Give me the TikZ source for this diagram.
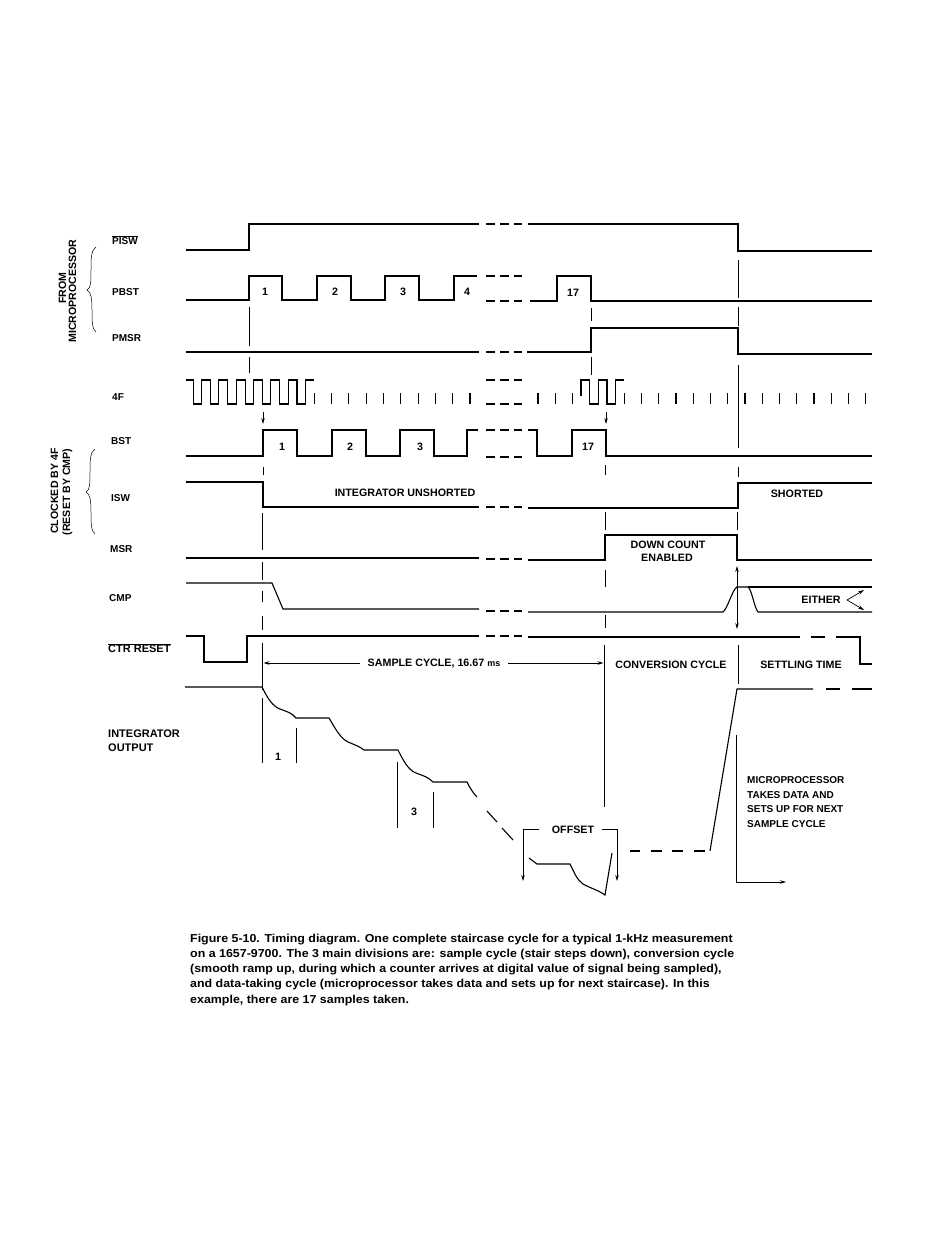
\documentclass[tikz,border=0pt]{standalone}
\usepackage{fontspec}
\setmainfont{Liberation Sans}
\newfontfamily\capfont[FakeStretch=1.08]{Liberation Sans}
\usetikzlibrary{arrows.meta}
\newcommand\gapdash[1]{\draw[sig] (486,#1)--(495,#1) (500,#1)--(509,#1) (514,#1)--(522,#1);}
\begin{document}
\begin{tikzpicture}[x=1pt,y=-1pt,
  sig/.style={line width=1.1pt},
  vm/.style={line width=0.7pt},
  lbl/.style={font=\bfseries\fontsize{10}{12}\selectfont, inner sep=0pt, anchor=west},
  lblb/.style={font=\bfseries\fontsize{11}{13}\selectfont, inner sep=0pt, anchor=west},
  il/.style={font=\bfseries\fontsize{10.7}{12}\selectfont, inner sep=0pt},
  rl/.style={font=\bfseries\fontsize{10.6}{12}\selectfont, inner sep=0pt, rotate=90, anchor=base},
  captxt/.style={font=\capfont\bfseries\fontsize{11.5}{13}\selectfont, inner sep=0pt, anchor=base west},
  tipd/.style={-{Stealth[length=6pt,width=3.5pt]}},
  tipb/.style={{Stealth[length=6pt,width=3.5pt]}-{Stealth[length=6pt,width=3.5pt]}}
]
\fill[white] (0,0) rectangle (950,1254);
\useasboundingbox (0,0) rectangle (950,1254);

% ---------- left labels ----------
\node[rl] (from) at (66,288) {FROM};
\node[rl] (micro) at (76,291) {MICROPROCESSOR};
\node[rl] (clk) at (58,491) {CLOCKED BY 4F};
\node[rl] (rst) at (70,492) {(RESET BY CMP)};
\draw[line width=0.5pt] (96,247) .. controls (91,250) and (91,259) .. (91,270) .. controls (91,282) and (91,288) .. (87,290) .. controls (91,292) and (92,298) .. (92,310) .. controls (92,321) and (92,329) .. (96,332);
\draw[line width=0.5pt] (95,449) .. controls (90,452) and (90,461) .. (90,472) .. controls (90,484) and (90,490) .. (86,492) .. controls (90,494) and (91,500) .. (91,512) .. controls (91,523) and (91,531) .. (95,534);

\node[lbl] (lpisw) at (112,240) {$\overline{\mbox{PISW}}$};
\node[lbl] (lpbst) at (112,292) {PBST};
\node[lbl] (lpmsr) at (112,338) {PMSR};
\node[lbl] (l4f) at (112,397) {4F};
\node[lbl] (lbst) at (111,441) {BST};
\node[lbl] (lisw) at (111,498) {ISW};
\node[lbl] (lmsr) at (110,549) {MSR};
\node[lbl] (lcmp) at (109,598) {CMP};
\node[lblb] (lctr) at (108,648) {$\overline{\mbox{CTR RESET}}$};
\node[lblb] (lint1) at (108,734) {INTEGRATOR};
\node[lblb] (lint2) at (108,748) {OUTPUT};

% ---------- PISW ----------
\draw[sig] (186,250) -- (249,250) -- (249,224) -- (479,224);
\gapdash{224}
\draw[sig] (528,224) -- (738,224) -- (738,251) -- (872,251);

% ---------- PBST ----------
\draw[sig] (186,300) -- (249,300) -- (249,276) -- (282,276) -- (282,300) -- (317,300) -- (317,276) -- (351,276) -- (351,300) -- (385,300) -- (385,276) -- (419,276) -- (419,300) -- (454,300) -- (454,276) -- (477,276);
\gapdash{276}
\gapdash{301}
\draw[sig] (530,301) -- (557,301) -- (557,276) -- (591,276) -- (591,301) -- (872,301);
\node[il] (p1) at (265,292) {1};
\node[il] (p2) at (335,292) {2};
\node[il] (p3) at (403,292) {3};
\node[il] (p4) at (467,292) {4};
\node[il] (p17) at (573,293) {17};

% ---------- PMSR ----------
\draw[sig] (186,352) -- (479,352);
\gapdash{352}
\draw[sig] (527,352) -- (591,352) -- (591,328) -- (738,328) -- (738,354) -- (872,354);

% ---------- 4F ----------
\draw[sig] (186,380) \foreach \i in {0,...,6} { -- ({193.2+17.3*\i},380) -- ({193.2+17.3*\i},404) -- ({201.6+17.3*\i},404) -- ({201.6+17.3*\i},380) } -- (314.3,380);
\foreach \i in {0,...,9} \draw[sig] ({314.3+17.3*\i},393) -- ({314.3+17.3*\i},404);
\gapdash{380}
\gapdash{404}
\foreach \i in {0,1,2,5,6,7,8,9,10,11,12,13,14,15,16,17,18,19} \draw[sig] ({538+17.25*\i},393) -- ({538+17.25*\i},404);
\draw[sig] (581,396) -- (581,380) -- (589.75,380) -- (589.75,404) -- (598.4,404) -- (598.4,380) -- (607,380) -- (607,404) -- (615.6,404) -- (615.6,380) -- (624.25,380);
\draw[vm,tipd] (263,412) -- (263,424);
\draw[vm,tipd] (606,412) -- (606,424);

% ---------- BST ----------
\draw[sig] (186,456) -- (263,456) -- (263,430) -- (297,430) -- (297,456) -- (332,456) -- (332,430) -- (366,430) -- (366,456) -- (400,456) -- (400,430) -- (434,430) -- (434,456) -- (467,456) -- (467,430) -- (478,430);
\gapdash{430}
\gapdash{457}
\draw[sig] (528,430) -- (537,430) -- (537,456) -- (572,456) -- (572,430) -- (606,430) -- (606,456) -- (872,456);
\node[il] (b1) at (282,447) {1};
\node[il] (b2) at (350,447) {2};
\node[il] (b3) at (420,447) {3};
\node[il] (b17) at (588,447) {17};

% ---------- ISW ----------
\draw[sig] (186,482) -- (263,482) -- (263,507) -- (479,507);
\gapdash{507}
\draw[sig] (528,508) -- (738,508) -- (738,483) -- (872,483);
\node[il] (unsh) at (405,493) {INTEGRATOR UNSHORTED};
\node[il] (sh) at (797,494) {SHORTED};

% ---------- MSR ----------
\draw[sig] (186,558) -- (479,558);
\gapdash{559}
\draw[sig] (528,560) -- (605,560) -- (605,535) -- (737,535) -- (737,560) -- (872,560);
\node[il] (dc1) at (668,545) {DOWN COUNT};
\node[il] (dc2) at (667,557.5) {ENABLED};

% ---------- CMP ----------
\draw[sig] (186,583) -- (272,583) -- (283,609) -- (479,609);
\gapdash{611}
\draw[sig] (528,612) -- (723,612) .. controls (728,608) and (732,590) .. (737,587) -- (748,587) .. controls (752,590) and (754,607) .. (758,612) -- (872,612);
\draw[sig] (748,587) -- (872,587);
\node[il] (either) at (821,600) {EITHER};
\coordinate (eo) at (847,600);
\coordinate (eu) at (864,590);
\coordinate (ed) at (864,610);
\draw[vm,tipd] (eo) -- (eu);
\draw[vm,tipd] (eo) -- (ed);
\draw[vm,tipb] (737,566) -- (737,629);

% ---------- CTR RESET ----------
\draw[sig] (186,636) -- (204,636) -- (204,662) -- (247,662) -- (247,636) -- (479,636);
\gapdash{636}
\draw[sig] (528,637) -- (800,637);
\draw[sig] (811,637) -- (825,637);
\draw[sig] (836,637) -- (860,637) -- (860,664) -- (872,664);

% ---------- cycle labels ----------
\node[il] (scyc) at (434,664) {SAMPLE CYCLE, 16.67 {\fontsize{9}{10}\selectfont ms}};
\draw[vm,tipd] (360,663) -- (263.5,663);
\draw[vm,tipd] (508,663) -- (603.5,663);
\node[il] (conv) at (671,665) {CONVERSION CYCLE};
\node[il] (settle) at (801,665) {SETTLING TIME};

% ---------- vertical markers ----------
\draw[vm] (249,307) -- (249,346) (249,357) -- (249,373);
\draw[vm] (591,308) -- (591,321) (591,357) -- (591,375);
\draw[vm] (738,260) -- (738,298) (738,307) -- (738,326) (738,365) -- (738,448) (738,467) -- (738,477) (737,512) -- (737,530) (738,645) -- (738,684);
\draw[vm] (263,467) -- (263,475) (262,513) -- (262,550) (262,562) -- (262,580) (262,591) -- (262,602) (262,616) -- (262,630) (262,643) -- (262,690);
\draw[vm] (605,465) -- (605,475) (605,512) -- (605,530) (605,570) -- (605,587) (605,615) -- (605,628) (604,645) -- (604,807);

% ---------- integrator output ----------
\draw[sig] (185,687) -- (262,687) .. controls (267,697) and (272,706) .. (280,709) .. controls (288,712) and (292,713) .. (296,718) -- (329,718)
  .. controls (335,728) and (340,738) .. (348,742) .. controls (355,745) and (359,746) .. (364,750) -- (398,750)
  .. controls (403,760) and (408,770) .. (416,773) .. controls (424,776) and (428,777) .. (433,782) -- (467,782)
  .. controls (470,788) and (473,793) .. (477,797);
\draw[sig] (487,811) -- (497,822) (502,828) -- (513,840);
\draw[vm] (262,698) -- (262,763) (296,728) -- (296,763);
\node[il] (i1) at (278,757) {1};
\draw[vm] (397,762) -- (397,828) (433,792) -- (433,828);
\node[il] (i3) at (414,812) {3};

% offset bracket
\node[il] (offset) at (573,830) {OFFSET};
\draw[vm,tipd] (539,829) -- (523,829) -- (523,881);
\draw[vm,tipd] (602,829) -- (617,829) -- (617,881);
\draw[sig] (529,858) -- (537,864) -- (570,864) .. controls (574,872) and (577,880) .. (583,884) .. controls (590,888) and (598,890) .. (605,895) -- (612,853);

% ramp back
\draw[sig] (630,851) -- (640,851) (651,851) -- (662,851) (672,851) -- (683,851) (694,851) -- (705,851);
\draw[sig] (710,851) -- (737,689) -- (813,689);
\draw[sig] (826,689) -- (840,689) (852,689) -- (872,689);
\draw[vm,tipd] (736,735) -- (736,882) -- (786,882);
\node[lbl] (mp1) at (747,780) {MICROPROCESSOR};
\node[lbl] (mp2) at (747,795) {TAKES DATA AND};
\node[lbl] (mp3) at (747,809.5) {SETS UP FOR NEXT};
\node[lbl] (mp4) at (747,824) {SAMPLE CYCLE};

% ---------- caption ----------
\node[captxt] (c1) at (190,942) {Figure 5-10. Timing diagram. One complete staircase cycle for a typical 1-kHz measurement};
\node[captxt] (c2) at (190,957.3) {on a 1657-9700. The 3 main divisions are: sample cycle (stair steps down), conversion cycle};
\node[captxt] (c3) at (190,972.6) {(smooth ramp up, during which a counter arrives at digital value of signal being sampled),};
\node[captxt] (c4) at (190,987.9) {and data-taking cycle (microprocessor takes data and sets up for next staircase). In this};
\node[captxt] (c5) at (190,1003.2) {example, there are 17 samples taken.};
\end{tikzpicture}
\end{document}
